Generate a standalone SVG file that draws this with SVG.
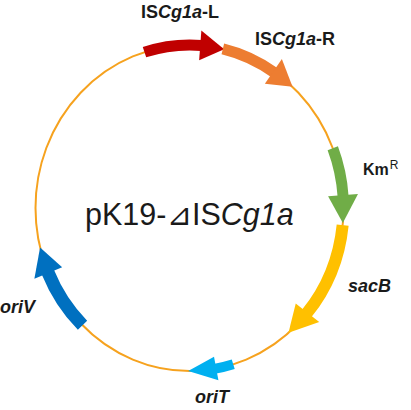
<svg xmlns="http://www.w3.org/2000/svg" width="411" height="410" viewBox="0 0 411 410">
<style>
.lbl{font-family:"Liberation Sans",Arial,sans-serif;font-weight:bold;font-size:18px;fill:#1a1a1a}
.it{font-style:italic}
.body{fill:none;stroke-linecap:butt}
.ring{fill:none;stroke:#F6A21E;stroke-width:2}
.title{font-family:"Liberation Sans",Arial,"DejaVu Sans",sans-serif;font-size:30.5px;fill:#1a1a1a}
</style>
<rect width="411" height="410" fill="#ffffff"/>
<g id="connectors">
<ellipse class="ring" cx="189.5" cy="208" rx="154" ry="163"/>
</g>
<g id="ISCg1a-L">
<path class="body" stroke="#C00000" stroke-width="11" d="M144.47 52.12 A154 163 0 0 1 201.5 45.4"/>
<polygon fill="#C00000" points="201.36,30.43 224.15,49.18 199.14,60.35"/>
<text class="lbl" x="141" y="18">IS<tspan class="it">Cg1a</tspan>-L</text>
</g>
<g id="ISCg1a-R">
<path class="body" stroke="#ED7D31" stroke-width="11" d="M222.83 48.86 A154 163 0 0 1 274.2 72.5"/>
<polygon fill="#ED7D31" points="281.87,58.93 292.54,86.87 264.87,83.65"/>
<text class="lbl" x="255" y="45">IS<tspan class="it">Cg1a</tspan>-R</text>
</g>
<g id="KmR">
<path class="body" stroke="#70AD47" stroke-width="11" d="M332.78 148.26 A154 163 0 0 1 343.1 196.5"/>
<polygon fill="#70AD47" points="357.99,194.10 342.84,223.06 328.07,196.32"/>
<text class="lbl" x="363" y="175" style="font-size:16px">Km<tspan dx="1" dy="-6" style="font-size:12px;font-weight:normal">R</tspan></text>
</g>
<g id="sacB">
<path class="body" stroke="#FFC000" stroke-width="12" d="M342.66 225.04 A154 163 0 0 1 306.6 313.6"/>
<polygon fill="#FFC000" points="319.22,322.09 288.49,332.86 295.72,303.45"/>
<text class="lbl it" x="348" y="292">sacB</text>
</g>
<g id="oriT">
<path class="body" stroke="#00B0F0" stroke-width="10" d="M233.24 364.28 A154 163 0 0 1 215.5 368.6"/>
<polygon fill="#00B0F0" points="218.44,380.32 188.16,370.99 214.04,356.72"/>
<text class="lbl it" x="195" y="403">oriT</text>
</g>
<g id="oriV">
<path class="body" stroke="#0070C0" stroke-width="13" d="M82.52 325.25 A154 163 0 0 1 47.8 272.0"/>
<polygon fill="#0070C0" points="34.39,278.69 40.08,247.43 62.15,267.29"/>
<text class="lbl it" x="35" y="313" text-anchor="end">oriV</text>
</g>
<g id="title">
<text class="title" x="85" y="225">pK19-⊿IS<tspan font-style="italic">Cg1a</tspan></text>
</g>
</svg>
